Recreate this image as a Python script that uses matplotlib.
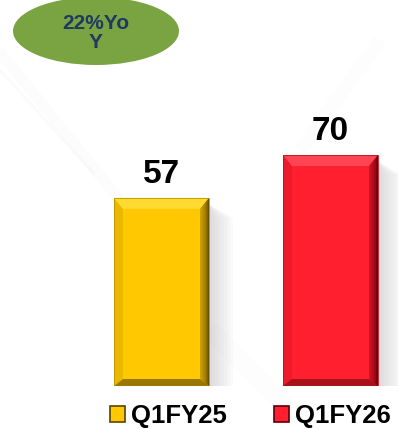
import numpy as np
import matplotlib
matplotlib.use("Agg")
import matplotlib.pyplot as plt
from matplotlib.patches import Polygon, Ellipse, Patch
from matplotlib.colors import to_rgb

# Data
periods = ["Q1FY25", "Q1FY26"]
revenue = [57, 70]
growth_label = "22%Yo\nY"

bar_colors = ["#FFC800", "#FF1F2E"]
top_colors = ["#FFDA30", "#FF4553"]
dark_colors = ["#5A4300", "#5A0008"]
bottom_colors = ["#9A7800", "#A8101C"]

W, H = 398, 429
fig = plt.figure(figsize=(W / 100, H / 100), dpi=100)
fig.patch.set_facecolor("white")

# Faint diagonal streaks in the background
bg = fig.add_axes([0, 0, 1, 1], zorder=-5)
bg.set_xlim(0, W)
bg.set_ylim(H, 0)
bg.axis("off")
for (xa, ya, xb, yb, lw, a) in [(-10, 40, 120, 200, 8, 0.025), (0, 70, 95, 175, 2, 0.04),
                                 (380, 40, 300, 150, 10, 0.015), (210, 330, 300, 420, 14, 0.02)]:
    bg.plot([xa, xb], [ya, yb], color="#9a9a9a", lw=lw, alpha=a, solid_capstyle="butt")

# Main axes: baseline at 386 px from the top
base_px = 386
ax = fig.add_axes([0, (H - base_px) / H, 1, base_px / H])
px_per_unit_y = 3.30
x_spacing = 169.0
ax.set_ylim(0, base_px / px_per_unit_y)
ax.set_xlim(-161.5 / x_spacing, 1 + (W - 330.5) / x_spacing)
ax.axis("off")

x = np.arange(len(periods))
width = 95 / x_spacing
bars = ax.bar(x, revenue, width=width, color=bar_colors, zorder=3, linewidth=0)


def blend(c1, c2, t):
    a, b = np.array(to_rgb(c1)), np.array(to_rgb(c2))
    return tuple(a * (1 - t) + b * t)


dx = 9 / x_spacing
dy_top = 11 / px_per_unit_y
dy_bot = 7 / px_per_unit_y

for rect, base, top, dark, bot in zip(bars, bar_colors, top_colors, dark_colors, bottom_colors):
    x0 = rect.get_x()
    x1 = x0 + rect.get_width()
    h = rect.get_height()
    # soft shadow on the right
    for k in range(8):
        ax.add_patch(Polygon([(x1, h - 2), (x1 + (k + 1) * 3 / x_spacing, h - 6),
                              (x1 + (k + 1) * 3 / x_spacing, -4 / px_per_unit_y), (x1, 0)],
                             closed=True, facecolor="#808080", alpha=0.035, lw=0, zorder=2))
    # left bevel
    ax.add_patch(Polygon([(x0, 0), (x0, h), (x0 + dx, h - dy_top), (x0 + dx, dy_bot)],
                         closed=True, facecolor=blend(base, dark, 0.12), lw=0, zorder=4))
    # top bevel
    ax.add_patch(Polygon([(x0, h), (x1, h), (x1 - dx, h - dy_top), (x0 + dx, h - dy_top)],
                         closed=True, facecolor=top, lw=0, zorder=4))
    # bottom bevel
    ax.add_patch(Polygon([(x0, 0), (x1, 0), (x1 - dx, dy_bot), (x0 + dx, dy_bot)],
                         closed=True, facecolor=bot, lw=0, zorder=4))
    # right bevel with a gradient towards the edge
    n = 10
    for i in range(n):
        t0, t1 = i / n, (i + 1) / n
        xa = x1 - dx + dx * t0
        xb = x1 - dx + dx * t1
        ya_top = h - dy_top * (1 - t0)
        yb_top = h - dy_top * (1 - t1)
        ya_bot = dy_bot * (1 - t0)
        yb_bot = dy_bot * (1 - t1)
        ax.add_patch(Polygon([(xa, ya_bot), (xa, ya_top), (xb, yb_top), (xb, yb_bot)],
                             closed=True, facecolor=blend(base, dark, 0.25 + 0.75 * t1),
                             lw=0, zorder=5))
    # thin outline
    ax.add_patch(Polygon([(x0, 0), (x0, h), (x1, h), (x1, 0)], closed=True, fill=False,
                         edgecolor=blend(base, dark, 0.4), lw=0.6, zorder=6))

# Value labels
for xi, v in zip(x, revenue):
    ax.text(xi, v + 8 / px_per_unit_y, f"{v}", ha="center", va="bottom",
            fontsize=24, fontweight="bold", family="Liberation Sans", color="black", zorder=7)

# Growth bubble
fig.patches.append(Ellipse((96 / W, 1 - 31 / H), 166 / W, 68 / H,
                           transform=fig.transFigure, facecolor="#7AA342",
                           edgecolor="none", zorder=10))
fig.text(96 / W, 1 - 33 / H, growth_label, ha="center", va="center", fontsize=15,
         fontweight="bold", family="Liberation Sans", color="#1F3864",
         linespacing=1.05, zorder=11)

# Legend
handles = [Patch(facecolor=c, edgecolor=d, linewidth=1.2) for c, d in zip(bar_colors, dark_colors)]
fig.legend(handles, periods, loc="upper left", bbox_to_anchor=(110 / W, 1 - 404 / H),
           ncol=2, frameon=False, prop={"family": "Liberation Sans", "weight": "bold", "size": 18.5},
           handlelength=0.6, handleheight=0.6, handletextpad=0.2, columnspacing=1.85,
           borderpad=0.0, borderaxespad=0.0)

fig.savefig("out.png", dpi=100, facecolor="white")
